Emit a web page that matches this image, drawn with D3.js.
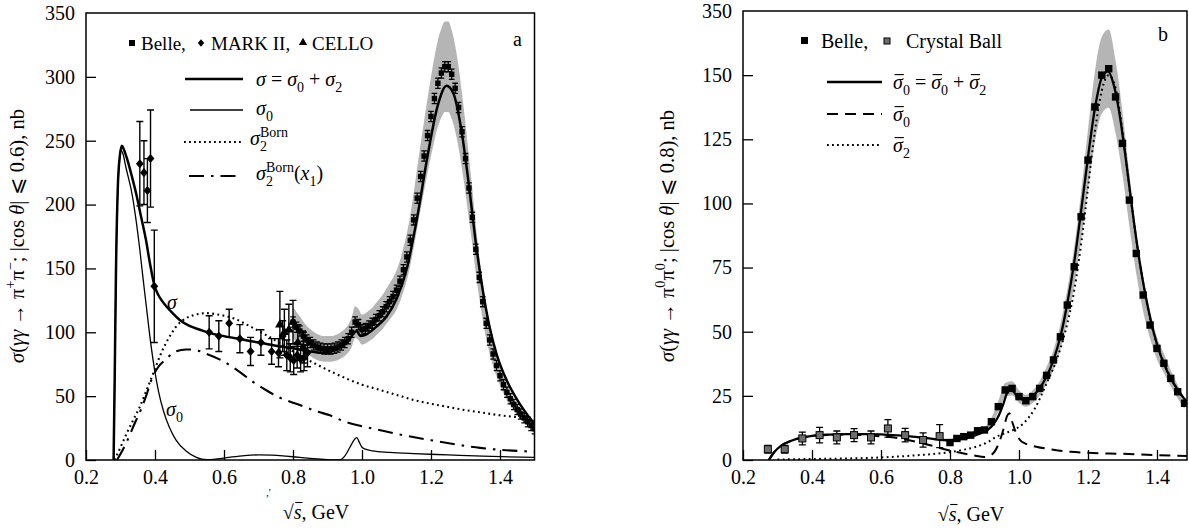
<!DOCTYPE html>
<html><head><meta charset="utf-8">
<script src="https://cdn.jsdelivr.net/npm/d3@7"></script>
<style>
body{margin:0;background:#fff;}
svg{display:block;font-family:"Liberation Serif","Times New Roman",serif;}
</style></head><body>
<svg id="c" width="1189" height="531"></svg>
<script>
// ---------- Panel a: gamma gamma -> pi+ pi- ----------
const belleCharged = [
[0.80,108],[0.81,104],[0.82,101],[0.83,97],[0.84,94],[0.85,92],[0.86,90],[0.87,88.5],[0.88,87.5],[0.89,87],
[0.90,87],[0.91,87],[0.92,87.5],[0.93,88.5],[0.94,90],[0.95,92],[0.96,95],[0.97,100],[0.98,108],[0.99,106],
[1.00,102],[1.01,103],[1.02,105],[1.03,107],[1.04,110],[1.05,113],[1.06,116],[1.07,120],[1.08,124],[1.09,128],
[1.10,133],[1.11,140],[1.12,149],[1.13,159],[1.14,172],[1.15,188],[1.16,205],[1.17,222],[1.18,238],[1.19,254],
[1.20,269],[1.21,283],[1.22,295],[1.23,303],[1.24,308],[1.25,308],[1.26,302],[1.27,291],[1.28,276],[1.29,257],
[1.30,236],[1.31,213],[1.32,190],[1.33,165],[1.34,143],[1.35,124],[1.36,107],[1.37,94],[1.38,83],[1.39,74],
[1.40,66],[1.41,59],[1.42,53],[1.43,48],[1.44,43.5],[1.45,39.5],[1.46,36],[1.47,33],[1.48,30],[1.49,27],[1.50,24.5]
];
const belleChargedStatErr = 4;      // nb
const belleChargedSysFrac = 0.115;  // grey band
const markII = [
[0.356,232,33],[0.368,225,25],[0.378,211,25],[0.387,236,38],[0.398,136,44],
[0.557,100,13],[0.585,97,12],[0.615,107,11],[0.646,95,11],[0.677,85,11],[0.707,92,10],[0.738,85,10],
[0.758,84,11],[0.770,97,12],[0.782,82,12],[0.792,80,11],[0.802,78,11],[0.812,82,10],[0.822,79,10],[0.832,80,10],[0.842,84,11]
];
const cello = [[0.762,106,26],[0.775,100,18],[0.788,102,20],[0.800,108,17],[0.814,92,14],[0.830,88,12]];
const sigmaTot = [
[0.280,0],[0.283,60],[0.287,150],[0.292,212],[0.298,238],[0.304,246],[0.310,243],[0.320,235],[0.333,222],[0.345,209],
[0.360,190],[0.374,172],[0.386,153],[0.398,137],[0.410,129],[0.422,124],[0.437,119],[0.451,115],[0.470,110],[0.500,105],
[0.530,102],[0.557,99.5],[0.600,97],[0.650,94.5],[0.700,92],[0.750,89.5],[0.800,87.5],[0.850,85],[0.880,84],[0.910,85],
[0.940,89],[0.960,93],[0.975,99],[0.985,101],[0.995,97],[1.010,98],[1.040,104],[1.070,112],[1.100,126],[1.130,150],
[1.160,190],[1.190,238],[1.220,278],[1.245,293],[1.265,287],[1.290,255],[1.310,215],[1.330,170],[1.350,133],[1.370,104],
[1.390,83],[1.420,62],[1.450,47],[1.480,35],[1.500,28]
];
const sigma0 = [
[0.280,0],[0.283,60],[0.287,150],[0.292,210],[0.297,234],[0.302,242],[0.308,239],[0.315,230],[0.322,222],[0.333,209],
[0.345,188],[0.355,167],[0.365,143],[0.375,120],[0.385,97],[0.398,72],[0.410,54],[0.425,38],[0.441,26],[0.460,16],
[0.490,7],[0.520,2],[0.550,0.2],[0.580,0.8],[0.620,2.3],[0.660,3.5],[0.700,4],[0.740,3.8],[0.780,3],[0.820,2],
[0.860,1],[0.900,0.3],[0.935,0],[0.950,3],[0.965,10],[0.978,16],[0.985,17.5],[0.992,14],[1.000,10],[1.010,8.5],
[1.030,7.2],[1.080,6],[1.150,5],[1.250,4],[1.350,3],[1.500,2]
];
const sigma2Born = [
[0.283,0],[0.300,10],[0.320,22],[0.340,33],[0.355,41],[0.370,51],[0.385,61],[0.398,70],[0.420,85],[0.441,96],
[0.460,104],[0.490,111],[0.520,114],[0.548,115],[0.580,114],[0.627,111],[0.680,104],[0.740,95],[0.800,85],[0.860,76],
[0.920,68],[1.000,59],[1.050,55],[1.100,51],[1.150,47],[1.200,44],[1.250,41.5],[1.300,39],[1.350,37],[1.400,35],
[1.450,33.5],[1.500,32]
];
const sigma2BornX1 = [
[0.290,0],[0.316,13],[0.340,28],[0.360,40],[0.374,50],[0.390,63],[0.410,73],[0.432,79],[0.460,85],[0.490,86.5],
[0.510,86.5],[0.550,83],[0.600,77],[0.650,68],[0.685,61],[0.720,55],[0.760,49],[0.820,43],[0.870,38],[0.907,35],
[0.950,30],[1.000,26.5],[1.050,23.5],[1.100,20.5],[1.200,15.5],[1.300,11],[1.342,9.5],[1.400,8],[1.500,6.5]
];
// ---------- Panel b: gamma gamma -> pi0 pi0 ----------
const belleNeutral = [
[0.80,6.8],[0.82,8.4],[0.84,9.1],[0.86,9.7],[0.88,11.4],[0.90,11.7],[0.92,14.9],[0.94,20.8],[0.96,27.3],[0.98,27.9],
[1.00,24.7],[1.02,23.1],[1.04,24.7],[1.06,27.9],[1.08,33],[1.10,39],[1.12,48],[1.14,60.4],[1.16,75.3],[1.18,94.8],
[1.20,116.9],[1.22,137.6],[1.24,150],[1.26,152.5],[1.28,141.5],[1.30,123.4],[1.32,101.3],[1.34,80.5],[1.36,64.3],[1.38,52.6],
[1.40,43.5],[1.42,37.7],[1.44,31.8],[1.46,26.6],[1.48,22.1]
];
const belleNeutralSysFrac = 0.10;
const crystalBall = [
[0.272,4.2,1.5],[0.321,4.2,1.5],[0.372,8.4,2.5],[0.422,9.7,3],[0.472,8.8,2.5],[0.522,9.7,2.5],
[0.571,8.8,2.5],[0.620,12.3,3.4],[0.670,9.7,2.6],[0.722,7.8,2.8],[0.770,9.3,4.5]
];
const sigmaBarTot = [
[0.275,0],[0.290,3],[0.310,5.5],[0.340,7.5],[0.370,8.7],[0.400,9.4],[0.450,9.9],[0.500,10.1],[0.550,10.1],[0.600,10],
[0.650,9.6],[0.700,9],[0.750,8.2],[0.780,7.8],[0.800,7.7],[0.830,8.1],[0.860,9],[0.890,10.5],[0.920,13],[0.940,17],
[0.955,22],[0.965,26],[0.975,27.5],[0.985,26.5],[1.000,24],[1.020,23.5],[1.040,25],[1.060,28],[1.080,32.5],[1.100,39],
[1.120,48],[1.140,61],[1.160,77],[1.180,97],[1.200,118],[1.220,137],[1.240,149],[1.258,151.5],[1.275,146],[1.290,136],
[1.310,117],[1.330,96],[1.350,77],[1.370,62],[1.390,50],[1.410,41],[1.430,34.5],[1.450,29.5],[1.470,25.5],[1.487,22.5]
];
const sigmaBar0 = [
[0.275,0],[0.290,3],[0.310,5.5],[0.340,7.5],[0.370,8.7],[0.400,9.3],[0.450,9.8],[0.500,9.9],[0.550,9.7],[0.600,9.2],
[0.650,8.5],[0.700,7.2],[0.750,5.5],[0.790,4],[0.830,2.8],[0.870,1.8],[0.900,1.2],[0.920,2],[0.940,6],[0.955,12],
[0.965,17],[0.972,18.2],[0.980,15],[0.990,11],[1.003,7.8],[1.020,6.3],[1.050,5.2],[1.100,4],[1.150,3.2],[1.200,2.8],
[1.300,2.4],[1.400,1.9],[1.487,1.6]
];
const sigmaBar2 = [
[0.300,0.2],[0.400,0.4],[0.500,0.6],[0.600,1],[0.700,1.8],[0.790,2.9],[0.840,4],[0.877,5.2],[0.910,7],[0.935,9.1],
[0.960,10.5],[0.984,11.7],[1.013,14.3],[1.046,20.1],[1.080,29.9],[1.109,39],[1.133,49.4],[1.160,66],[1.180,84],[1.200,106],
[1.220,128],[1.240,144],[1.260,150],[1.280,145],[1.300,128],[1.320,106],[1.340,86],[1.360,69],[1.380,55],[1.400,45],
[1.420,38],[1.440,32],[1.460,27.5],[1.487,22.5]
];
// ---------- tick labels ----------
const xTickValues = [0.2,0.4,0.6,0.8,1.0,1.2,1.4];
const xTickLabels = ["0.2","0.4","0.6","0.8","1.0","1.2","1.4"];
const leftYTickValues = [0,50,100,150,200,250,300,350];
const leftYTickLabels = ["0","50","100","150","200","250","300","350"];
const rightYTickValues = [0,25,50,75,100,125,150,175];
const rightYTickLabels = ["0","25","50","75","100","125","150","350"];

const svg = d3.select("#c");
const FS = 20;

// rich text: parts {t, i(talic), sub, sup, dx, bar(overline)}
function rich(g, x, y, parts, size, anchor){
  const t = g.append("text").attr("x",x).attr("y",y).attr("font-size",size).attr("fill","#000");
  if(anchor) t.attr("text-anchor",anchor);
  let cur = 0;
  const bars = [];
  parts.forEach(p=>{
    const ts = t.append("tspan").text(p.t);
    let target = 0, fs = size;
    if(p.sub){ target = size*0.3; fs = size*0.7; }
    if(p.sup){ target = -size*0.42; fs = size*0.7; }
    if(target!==cur){ ts.attr("dy", target-cur); cur = target; }
    if(fs!==size) ts.attr("font-size", fs);
    if(p.i) ts.attr("font-style","italic");
    if(p.dx) ts.attr("dx", p.dx);
    if(p.bar) bars.push({ts, p});
  });
  return {t, bars};
}
function drawBars(g, r, size){
  r.bars.forEach(({ts,p})=>{
    const node = ts.node();
    const n = node.getNumberOfChars();
    const e0 = node.getExtentOfChar(0), e1 = node.getExtentOfChar(n-1);
    const x0 = e0.x + (p.bx0||1.5), x1 = e1.x + e1.width + (p.bx1||1);
    const yy = e0.y + (p.by||size*0.18);
    g.append("line").attr("x1",x0).attr("x2",x1).attr("y1",yy).attr("y2",yy)
      .attr("stroke","#000").attr("stroke-width",1.1);
  });
}

function panel(opt){
  const x = d3.scaleLinear().domain(opt.xDomain).range(opt.xRange);
  const y = d3.scaleLinear().domain(opt.yDomain).range(opt.yRange);
  const g = svg.append("g");
  const clipId = "clip"+opt.id;
  g.append("clipPath").attr("id",clipId).append("rect")
    .attr("x",opt.xRange[0]).attr("y",opt.yRange[1]).attr("width",opt.xRange[1]-opt.xRange[0]).attr("height",opt.yRange[0]-opt.yRange[1]);
  const plot = g.append("g").attr("clip-path",`url(#${clipId})`);
  const ax = g.append("g").attr("transform",`translate(0,${opt.yRange[0]})`)
    .call(d3.axisBottom(x).tickValues(xTickValues).tickFormat((d,i)=>xTickLabels[i]).tickSizeInner(-10).tickSizeOuter(0).tickPadding(10));
  const ay = g.append("g").attr("transform",`translate(${opt.xRange[0]},0)`)
    .call(d3.axisLeft(y).tickValues(opt.yTickValues).tickFormat((d,i)=>opt.yTickLabels[i]).tickSizeInner(-10).tickSizeOuter(0).tickPadding(11));
  [ax,ay].forEach(a=>{
    a.attr("font-family",null).attr("font-size",FS);
    a.select(".domain").remove();
    a.selectAll(".tick line").attr("stroke","#000").attr("stroke-width",1.3);
    a.selectAll(".tick text").attr("fill","#000");
  });
  ay.selectAll(".tick").filter(d=>d===opt.yDomain[1]).select("line").remove();
  g.append("rect").attr("x",opt.xRange[0]).attr("y",opt.yRange[1])
    .attr("width",opt.xRange[1]-opt.xRange[0]).attr("height",opt.yRange[0]-opt.yRange[1])
    .attr("fill","none").attr("stroke","#000").attr("stroke-width",1.5);
  return {x,y,g,plot};
}

const lineGen = (x,y)=>d3.line().x(d=>x(d[0])).y(d=>y(d[1])).curve(d3.curveMonotoneX);
const diamondSym = {draw(ctx,size){const r=Math.sqrt(size)/2; ctx.moveTo(0,-r*1.15); ctx.lineTo(r,0); ctx.lineTo(0,r*1.15); ctx.lineTo(-r,0); ctx.closePath();}};

function errBars(plot, x, y, data, getErr, cap, w){
  plot.append("g").selectAll("path").data(data).join("path")
    .attr("d",d=>{const e=getErr(d), X=x(d[0]), t=y(d[1]+e), b=y(d[1]-e);
      return `M${X},${t}V${b}M${X-cap},${t}H${X+cap}M${X-cap},${b}H${X+cap}`;})
    .attr("stroke","#000").attr("stroke-width",w).attr("fill","none");
}
function sqrtLabel(g, cx, y){
  const r = rich(g,cx,y,[{t:"√"},{t:"s",i:true,bar:true,bx0:0,bx1:1,by:1.5},{t:", GeV"}],20,"middle");
  drawBars(g, r, 20);
}

// ================= Panel a =================
const A = panel({id:"a", xDomain:[0.2,1.5], xRange:[86,534.5], yDomain:[0,350], yRange:[460,13],
  yTickValues:leftYTickValues, yTickLabels:leftYTickLabels});
{
  const {x,y,plot,g} = A;
  plot.append("path").datum(belleCharged)
    .attr("d",d3.area().x(d=>x(d[0])).y0(d=>y(d[1]*(1-belleChargedSysFrac))).y1(d=>y(d[1]*(1+belleChargedSysFrac))).curve(d3.curveMonotoneX))
    .attr("fill","#b5b5b5");
  const L = lineGen(x,y);
  plot.append("path").datum(sigma2Born).attr("d",L).attr("fill","none").attr("stroke","#000").attr("stroke-width",2.1).attr("stroke-dasharray","1.8,3.4");
  plot.append("path").datum(sigma2BornX1).attr("d",L).attr("fill","none").attr("stroke","#000").attr("stroke-width",2.1).attr("stroke-dasharray","15,7,2.5,7");
  plot.append("path").datum(sigma0).attr("d",L).attr("fill","none").attr("stroke","#000").attr("stroke-width",1.3);
  plot.append("path").datum(sigmaTot).attr("d",L).attr("fill","none").attr("stroke","#000").attr("stroke-width",2.5);
  errBars(plot,x,y,markII,d=>d[2],3.5,1.4);
  errBars(plot,x,y,cello,d=>d[2],3.5,1.4);
  plot.append("g").selectAll("path").data(markII).join("path")
    .attr("transform",d=>`translate(${x(d[0])},${y(d[1])})`).attr("d",d3.symbol(diamondSym,62)).attr("fill","#000");
  plot.append("g").selectAll("path").data(cello).join("path")
    .attr("transform",d=>`translate(${x(d[0])},${y(d[1])})`).attr("d",d3.symbol(d3.symbolTriangle,40)).attr("fill","#000");
  errBars(plot,x,y,belleCharged,()=>belleChargedStatErr,2.8,1.3);
  plot.append("g").selectAll("rect").data(belleCharged).join("rect")
    .attr("x",d=>x(d[0])-2.7).attr("y",d=>y(d[1])-2.7).attr("width",5.4).attr("height",5.4).attr("fill","#000");
  rich(g,167,309,[{t:"σ",i:true}],20);
  rich(g,166,416,[{t:"σ",i:true},{t:"0",sub:true}],20);
  g.append("text").attr("x",513).attr("y",46).attr("font-size",20).text("a");
  // legend
  const lg = g.append("g");
  const LF = 19;
  lg.append("rect").attr("x",129).attr("y",40).attr("width",6).attr("height",6).attr("fill","#000");
  lg.append("text").attr("x",141).attr("y",50).attr("font-size",LF).text("Belle,");
  lg.append("path").attr("transform","translate(201,43)").attr("d",d3.symbol(diamondSym,42)).attr("fill","#000");
  lg.append("text").attr("x",211).attr("y",50).attr("font-size",LF).text("MARK II,");
  lg.append("path").attr("transform","translate(303,42.5)").attr("d",d3.symbol(d3.symbolTriangle,30)).attr("fill","#000");
  lg.append("text").attr("x",312).attr("y",50).attr("font-size",LF).text("CELLO");
  lg.append("line").attr("x1",185).attr("x2",243).attr("y1",79).attr("y2",79).attr("stroke","#000").attr("stroke-width",2.5);
  rich(lg,256,86,[{t:"σ",i:true},{t:" = "},{t:"σ",i:true},{t:"0",sub:true},{t:" + "},{t:"σ",i:true},{t:"2",sub:true}],FS);
  lg.append("line").attr("x1",190).attr("x2",243).attr("y1",110).attr("y2",110).attr("stroke","#000").attr("stroke-width",1.3);
  rich(lg,256,115,[{t:"σ",i:true},{t:"0",sub:true}],FS);
  lg.append("line").attr("x1",184).attr("x2",241).attr("y1",142).attr("y2",142).attr("stroke","#000").attr("stroke-width",2).attr("stroke-dasharray","1.8,3.2");
  rich(lg,250,145,[{t:"σ",i:true},{t:"2",sub:true},{t:"Born",sup:true,dx:-7}],FS);
  lg.append("line").attr("x1",189).attr("x2",242).attr("y1",176).attr("y2",176).attr("stroke","#000").attr("stroke-width",2).attr("stroke-dasharray","15,7,2.5,7");
  rich(lg,256,180,[{t:"σ",i:true},{t:"2",sub:true},{t:"Born",sup:true,dx:-7},{t:"("},{t:"x",i:true},{t:"1",sub:true},{t:")"}],FS);
  const yt = rich(g,0,0,[{t:"σ",i:true},{t:"("},{t:"γγ",i:true},{t:" → π"},{t:"+",sup:true},{t:"π"},{t:"−",sup:true},{t:"; |cos "},{t:"θ",i:true},{t:"| ⩽ 0.6), nb"}],20.5,"middle");
  yt.t.attr("transform","translate(24,236) rotate(-90)");
  sqrtLabel(g,316,519);
  g.append("text").attr("x",266).attr("y",496).attr("font-size",11).text(",'");
}

// ================= Panel b =================
const B = panel({id:"b", xDomain:[0.2,1.487], xRange:[743,1187], yDomain:[0,175], yRange:[460,11],
  yTickValues:rightYTickValues, yTickLabels:rightYTickLabels});
{
  const {x,y,plot,g} = B;
  plot.append("path").datum(belleNeutral)
    .attr("d",d3.area().x(d=>x(d[0])).y0(d=>y(d[1]*(1-belleNeutralSysFrac))).y1(d=>y(d[1]*(1+belleNeutralSysFrac))).curve(d3.curveMonotoneX))
    .attr("fill","#b5b5b5");
  const L = lineGen(x,y);
  plot.append("path").datum(sigmaBar2).attr("d",L).attr("fill","none").attr("stroke","#000").attr("stroke-width",2).attr("stroke-dasharray","1.8,3.4");
  plot.append("path").datum(sigmaBar0).attr("d",L).attr("fill","none").attr("stroke","#000").attr("stroke-width",2).attr("stroke-dasharray","11,7");
  plot.append("path").datum(sigmaBarTot).attr("d",L).attr("fill","none").attr("stroke","#000").attr("stroke-width",2.3);
  errBars(plot,x,y,crystalBall,d=>d[2],3.5,1.3);
  plot.append("g").selectAll("rect").data(crystalBall).join("rect")
    .attr("x",d=>x(d[0])-3.5).attr("y",d=>y(d[1])-3.5).attr("width",7).attr("height",7)
    .attr("fill","#6e6e6e").attr("stroke","#000").attr("stroke-width",1);
  plot.append("g").selectAll("rect").data(belleNeutral).join("rect")
    .attr("x",d=>x(d[0])-3.7).attr("y",d=>y(d[1])-3.7).attr("width",7.4).attr("height",7.4).attr("fill","#000");
  g.append("text").attr("x",1158).attr("y",41).attr("font-size",20).text("b");
  const lg = g.append("g");
  lg.append("rect").attr("x",801).attr("y",37).attr("width",7).attr("height",7).attr("fill","#000");
  lg.append("text").attr("x",821).attr("y",48).attr("font-size",FS).text("Belle,");
  lg.append("rect").attr("x",884).attr("y",38).attr("width",6).attr("height",6).attr("fill","#6e6e6e").attr("stroke","#000").attr("stroke-width",1);
  lg.append("text").attr("x",906).attr("y",48).attr("font-size",FS).text("Crystal Ball");
  const sb = {t:"σ",i:true,bar:true};
  lg.append("line").attr("x1",827).attr("x2",882).attr("y1",82).attr("y2",82).attr("stroke","#000").attr("stroke-width",2.3);
  drawBars(lg, rich(lg,893,89,[sb,{t:"0",sub:true},{t:" = "},sb,{t:"0",sub:true},{t:" + "},sb,{t:"2",sub:true}],FS), FS);
  lg.append("line").attr("x1",827).attr("x2",882).attr("y1",114).attr("y2",114).attr("stroke","#000").attr("stroke-width",2).attr("stroke-dasharray","11,7");
  drawBars(lg, rich(lg,893,121,[sb,{t:"0",sub:true}],FS), FS);
  lg.append("line").attr("x1",827).attr("x2",882).attr("y1",145).attr("y2",145).attr("stroke","#000").attr("stroke-width",2).attr("stroke-dasharray","1.8,3.2");
  drawBars(lg, rich(lg,893,152,[sb,{t:"2",sub:true}],FS), FS);
  const yt = rich(g,0,0,[{t:"σ",i:true},{t:"("},{t:"γγ",i:true},{t:" → π"},{t:"0",sup:true},{t:"π"},{t:"0",sup:true},{t:"; |cos "},{t:"θ",i:true},{t:"| ⩽ 0.8), nb"}],20.5,"middle");
  yt.t.attr("transform","translate(674,236) rotate(-90)");
  sqrtLabel(g,971,521);
}
</script></body></html>
